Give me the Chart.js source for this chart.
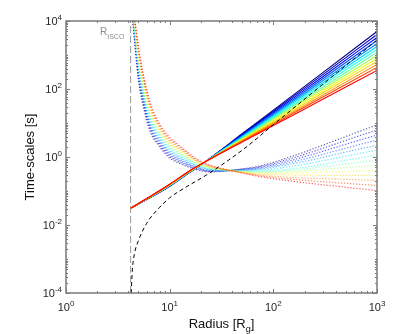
<!DOCTYPE html>
<html>
<head>
<meta charset="utf-8">
<script src="https://cdn.jsdelivr.net/npm/chart.js@4"></script>
<style>
  html, body { margin: 0; padding: 0; background: #fff; }
  canvas { display: block; }
</style>
</head>
<body>
<canvas id="chart" width="415" height="334"></canvas>
<script>
// radius of the innermost stable orbit
const iscoR = 4.2;

// solid curves (one row per colour, blue -> red)
const solidX = [4.2, 6, 10, 15, 22, 50, 100, 300, 1000];
const solidY = [
  [0.031, 0.056, 0.138, 0.324, 0.72, 4.84, 24.0, 303, 4900],
  [0.031, 0.056, 0.139, 0.327, 0.72, 4.63, 22.1, 264, 4000],
  [0.031, 0.057, 0.141, 0.330, 0.72, 4.44, 20.4, 230, 3270],
  [0.031, 0.057, 0.142, 0.333, 0.72, 4.25, 18.8, 200, 2670],
  [0.031, 0.057, 0.144, 0.336, 0.72, 4.06, 17.4, 174, 2180],
  [0.031, 0.058, 0.145, 0.339, 0.72, 3.89, 16.1, 152, 1780],
  [0.031, 0.058, 0.147, 0.342, 0.72, 3.72, 14.8, 132, 1455],
  [0.031, 0.058, 0.148, 0.345, 0.72, 3.56, 13.7, 115, 1190],
  [0.031, 0.059, 0.150, 0.348, 0.72, 3.41, 12.6, 100, 970],
  [0.031, 0.059, 0.151, 0.351, 0.72, 3.27, 11.6, 87, 790],
  [0.031, 0.059, 0.153, 0.354, 0.72, 3.13, 10.7, 76, 650],
  [0.031, 0.059, 0.155, 0.357, 0.72, 3.00, 9.9, 66, 530],
  [0.031, 0.060, 0.156, 0.360, 0.72, 2.87, 9.1, 58, 430],
  [0.031, 0.060, 0.158, 0.363, 0.72, 2.74, 8.4, 50, 350]
];

// dotted curves: each starts at the top of the plot (1e4) at its own radius
const dottedTop = 1e4;
const dottedStartX = [4.40, 4.41, 4.43, 4.45, 4.47, 4.48, 4.50, 4.52, 4.53, 4.55, 4.57, 4.59, 4.61, 4.62];
const dottedX = [5, 5.5, 6.5, 8, 10, 13, 18, 25, 35, 50, 75, 1000];
const dottedY = [
  [182, 36.3, 5.50, 2.00, 0.933, 0.617, 0.427, 0.363, 0.389, 0.447, 0.550, 8.71],
  [217, 43.0, 6.40, 2.25, 1.04, 0.673, 0.452, 0.376, 0.392, 0.438, 0.519, 6.19],
  [259, 50.8, 7.45, 2.53, 1.16, 0.736, 0.478, 0.388, 0.394, 0.429, 0.491, 4.40],
  [310, 60.1, 8.67, 2.85, 1.29, 0.804, 0.506, 0.402, 0.397, 0.419, 0.463, 3.13],
  [370, 71.1, 10.1, 3.21, 1.44, 0.879, 0.535, 0.416, 0.400, 0.410, 0.439, 2.22],
  [442, 84.1, 11.8, 3.61, 1.60, 0.959, 0.566, 0.430, 0.403, 0.402, 0.414, 1.58],
  [527, 99.5, 13.7, 4.06, 1.79, 1.05, 0.600, 0.445, 0.406, 0.394, 0.391, 1.12],
  [628, 118, 16.0, 4.58, 1.99, 1.15, 0.634, 0.459, 0.409, 0.385, 0.370, 0.796],
  [750, 140, 18.6, 5.15, 2.21, 1.25, 0.671, 0.475, 0.412, 0.377, 0.349, 0.566],
  [895, 165, 21.6, 5.81, 2.47, 1.37, 0.711, 0.492, 0.415, 0.369, 0.330, 0.402],
  [1069, 195, 25.2, 6.53, 2.75, 1.50, 0.752, 0.508, 0.418, 0.361, 0.312, 0.285],
  [1276, 231, 29.4, 7.36, 3.06, 1.63, 0.796, 0.526, 0.421, 0.353, 0.294, 0.203],
  [1524, 274, 34.2, 8.28, 3.41, 1.79, 0.841, 0.543, 0.424, 0.346, 0.279, 0.144],
  [1820, 324, 39.8, 9.33, 3.80, 1.95, 0.891, 0.562, 0.427, 0.339, 0.263, 0.102]
];

// black dashed curve
const dashedX = [4.25, 4.37, 4.57, 5, 6, 8, 10, 15, 22, 50, 100, 300, 1000];
const dashedY = [1e-4, 5e-4, 1.4e-3, 3.5e-3, 0.0112, 0.033, 0.063, 0.141, 0.28, 1.58, 8.9, 138, 2750];

// jet-like colours
const colors = [
  [0, 0, 128], [0, 0, 196], [0, 10, 255], [0, 78, 255], [0, 147, 255],
  [0, 216, 255], [29, 255, 226], [98, 255, 157], [167, 255, 88], [236, 255, 19],
  [255, 206, 0], [255, 137, 0], [255, 69, 0], [255, 0, 0]
];

// axis ranges and tick labels
const xRange = [1, 1000];
const yRange = [1e-4, 1e4];
const xTickExp = [0, 1, 2, 3];
const yTickExp = [-4, -2, 0, 2, 4];

const FONT = '"Liberation Sans", Arial, Helvetica, sans-serif';

const pts = (xs, ys) => xs.map((x, i) => ({ x: x, y: ys[i] }));
const rgba = (c, a) => `rgba(${c[0]},${c[1]},${c[2]},${a})`;

let datasets = [];

// ISCO marker
datasets.push({
  data: [{ x: iscoR, y: yRange[0] }, { x: iscoR, y: yRange[1] }],
  borderColor: '#9a9a9a', borderWidth: 1, borderDash: [7, 3], order: 400
});

dottedY.forEach((row, i) => {
  datasets.push({
    data: [{ x: dottedStartX[i], y: dottedTop }].concat(pts(dottedX, row)),
    borderColor: rgba(colors[i], 0.6), borderWidth: 1.2, borderDash: [1.3, 1.7],
    cubicInterpolationMode: 'monotone', order: 300 - i
  });
});

solidY.forEach((row, i) => {
  datasets.push({
    data: pts(solidX, row),
    borderColor: rgba(colors[i], 1), borderWidth: 1.1,
    cubicInterpolationMode: 'monotone', order: 200 - i
  });
});

datasets.push({
  data: pts(dashedX, dashedY),
  borderColor: '#000', borderWidth: 1, borderDash: [4, 3],
  cubicInterpolationMode: 'monotone', order: 0
});

// frame, inward ticks, labels
const decor = {
  id: 'decor',
  afterDraw(chart) {
    const ctx = chart.ctx;
    const a = chart.chartArea;
    const xs = chart.scales.x, ys = chart.scales.y;
    ctx.save();

    ctx.strokeStyle = '#7a7a7a';
    ctx.lineWidth = 1;
    ctx.beginPath();
    for (let d = 0; d <= 3; d++) {
      for (let m = 1; m <= 9; m++) {
        const v = m * Math.pow(10, d);
        if (v > xRange[1]) break;
        const px = Math.round(xs.getPixelForValue(v)) + 0.5;
        const len = m === 1 ? 4 : 2;
        ctx.moveTo(px, a.bottom); ctx.lineTo(px, a.bottom - len);
        ctx.moveTo(px, a.top); ctx.lineTo(px, a.top + len);
      }
    }
    for (let d = -4; d <= 4; d++) {
      for (let m = 1; m <= 9; m++) {
        const v = m * Math.pow(10, d);
        if (v > yRange[1]) break;
        const py = Math.round(ys.getPixelForValue(v)) + 0.5;
        const len = (m === 1 && d % 2 === 0) ? 4 : 2;
        ctx.moveTo(a.left, py); ctx.lineTo(a.left + len, py);
        ctx.moveTo(a.right, py); ctx.lineTo(a.right - len, py);
      }
    }
    ctx.stroke();

    ctx.lineWidth = 1.5;
    ctx.strokeRect(a.left, a.top, a.right - a.left, a.bottom - a.top);

    const pow = (exp, x, y, align) => {
      const base = '10', sup = String(exp);
      ctx.font = '11px ' + FONT;
      const w1 = ctx.measureText(base).width;
      ctx.font = '8px ' + FONT;
      const w2 = ctx.measureText(sup).width;
      const x0 = align === 'right' ? x - w1 - w2 : x - (w1 + w2) / 2;
      ctx.textAlign = 'left';
      ctx.font = '11px ' + FONT;
      ctx.fillText(base, x0, y);
      ctx.font = '8px ' + FONT;
      ctx.fillText(sup, x0 + w1, y - 5);
    };

    ctx.fillStyle = '#262626';
    ctx.textBaseline = 'alphabetic';
    xTickExp.forEach(e => pow(e, xs.getPixelForValue(Math.pow(10, e)), a.bottom + 18, 'center'));
    yTickExp.forEach(e => pow(e, a.left - 4, ys.getPixelForValue(Math.pow(10, e)) + 4, 'right'));

    // x axis title with subscript
    ctx.fillStyle = '#111';
    ctx.font = '13px ' + FONT;
    const t1 = 'Radius [R', t3 = ']';
    const w1 = ctx.measureText(t1).width, w3 = ctx.measureText(t3).width;
    ctx.font = '9px ' + FONT;
    const w2 = ctx.measureText('g').width;
    let x0 = (a.left + a.right) / 2 - (w1 + w2 + w3) / 2;
    ctx.font = '13px ' + FONT;
    ctx.fillText(t1, x0, 328);
    ctx.font = '9px ' + FONT;
    ctx.fillText('g', x0 + w1, 332);
    ctx.font = '13px ' + FONT;
    ctx.fillText(t3, x0 + w1 + w2, 328);

    // y axis title
    ctx.save();
    ctx.translate(34, (a.top + a.bottom) / 2);
    ctx.rotate(-Math.PI / 2);
    ctx.textAlign = 'center';
    ctx.font = '13px ' + FONT;
    ctx.fillText('Time-scales [s]', 0, 0);
    ctx.restore();

    // R_ISCO label
    ctx.fillStyle = '#8c8c8c';
    ctx.textAlign = 'left';
    ctx.font = '10px ' + FONT;
    ctx.fillText('R', 100, 35);
    const wr = ctx.measureText('R').width;
    ctx.font = '7px ' + FONT;
    ctx.fillText('ISCO', 100 + wr, 39);

    ctx.restore();
  }
};

new Chart(document.getElementById('chart'), {
  type: 'scatter',
  data: { datasets: datasets },
  options: {
    responsive: false,
    animation: false,
    devicePixelRatio: 1,
    showLine: true,
    elements: { point: { radius: 0, hoverRadius: 0 } },
    layout: { padding: { top: 21, right: 38, left: 0, bottom: 0 } },
    plugins: { legend: { display: false }, tooltip: { enabled: false } },
    scales: {
      x: {
        type: 'logarithmic', min: xRange[0], max: xRange[1],
        grid: { display: false }, border: { display: false },
        ticks: { display: false },
        afterFit(s) { s.height = 41; }
      },
      y: {
        type: 'logarithmic', min: yRange[0], max: yRange[1],
        grid: { display: false }, border: { display: false },
        ticks: { display: false },
        afterFit(s) { s.width = 66; }
      }
    }
  },
  plugins: [decor]
});
</script>
</body>
</html>
